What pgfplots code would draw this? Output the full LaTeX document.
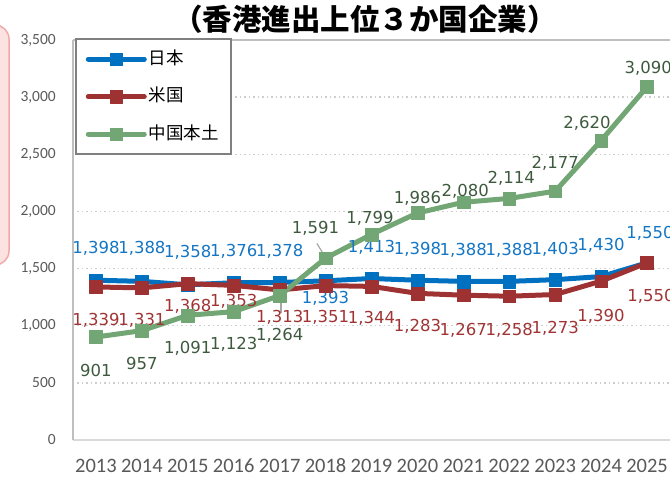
\documentclass[border=0pt]{standalone}
\usepackage{pgfplots}
\pgfplotsset{compat=1.18}
\usepackage{pgfplotstable}
\usepackage{fontspec}
\setmainfont{Carlito}
\newfontfamily\dejavu{DejaVu Sans}
\newfontfamily\cjk{Noto Sans CJK JP}
\definecolor{jpblue}{RGB}{0,112,192}
\definecolor{usred}{RGB}{158,50,50}
\definecolor{cngreen}{RGB}{114,166,117}
\definecolor{jplab}{RGB}{20,118,196}
\definecolor{uslab}{RGB}{160,52,52}
\definecolor{cnlab}{RGB}{62,90,62}
\definecolor{ticktext}{RGB}{89,89,89}
\definecolor{axgray}{RGB}{191,191,191}
\definecolor{lightaxis}{RGB}{217,217,217}
\definecolor{gridgray}{RGB}{205,205,205}
\definecolor{leggray}{RGB}{128,128,128}
\definecolor{pinkfill}{RGB}{253,226,226}
\definecolor{pinkdraw}{RGB}{240,170,170}
\pgfplotsset{/pgf/number format/.cd, 1000 sep={,}, assume math mode=true}

\pgfplotstableread{
x y dx dy
0 1398 0 32
1 1388 0 33
2 1358 0 32
3 1376 0 31
4 1378 0 31
5 1393 0 -17.5
6 1413 0 31.5
7 1398 0 31
8 1388 0 31
9 1388 0 31
10 1403 0 30
11 1430 0 31.5
12 1550 3 29.5
}\jp
\pgfplotstableread{
x y dx dy
0 1339 0 -33
1 1331 0 -32
2 1368 0 -23
3 1353 0 -16
4 1313 0 -27
5 1351 0 -31.5
6 1344 0 -32
7 1283 0 -33
8 1267 0 -35
9 1258 0 -34
10 1273 0 -33.5
11 1390 0 -35
12 1550 4 -33
}\us
\pgfplotstableread{
x y dx dy
0 901 0 -33
1 957 0 -33
2 1091 0 -33
3 1123 0 -33
4 1264 0 -39.5
5 1591 -10 30
6 1799 -1.5 16
7 1986 0 15
8 2080 2 10.6
9 2114 2 20
10 2177 0 28
11 2620 -14 17
12 3090 1.3 18.6
}\cn

\begin{document}
\begin{tikzpicture}
\useasboundingbox (0,0) rectangle (670pt,479pt);
\clip (0,0) rectangle (670pt,479pt);
\draw[rounded corners=14pt, fill=pinkfill, draw=pinkdraw, line width=1.5pt] (-30pt,214pt) rectangle (9pt,454pt);
\node[font=\cjk\bfseries\fontsize{29.5pt}{29.5pt}\selectfont, black] at (365pt,460pt) {（香港進出上位３か国企業）};
\begin{axis}[
  at={(73pt,39pt)}, anchor=south west, scale only axis,
  width=597pt, height=400pt,
  xmin=-0.5, xmax=12.5, ymin=0, ymax=3500,
  xtick={0,...,12},
  xticklabels={2013,2014,2015,2016,2017,2018,2019,2020,2021,2022,2023,2024,2025},
  ytick={0,500,...,3500},
  scaled y ticks=false,
  major tick length=0pt,
  axis lines=left, axis line style={-},
  x axis line style={draw=lightaxis, line width=1.5pt},
  y axis line style={draw=axgray, line width=1.5pt},
  ymajorgrids, grid style={gridgray, line width=1.5pt, dash pattern=on 1.5pt off 3pt},
  xticklabel style={font=\fontsize{20.5pt}{20.5pt}\selectfont, text=ticktext, anchor=center, yshift=-26pt, inner sep=0pt},
  yticklabel style={font=\fontsize{15.5pt}{15.5pt}\selectfont, text=ticktext, anchor=east, xshift=-17pt, inner sep=0pt},
  legend style={at={(axis description cs:0.0034,1.004)}, anchor=north west, draw=leggray, line width=1.5pt, fill=white,
    inner xsep=10pt, inner ysep=10pt, row sep=17.5pt,
    font=\cjk\fontsize{17.5pt}{17.5pt}\selectfont,
    nodes={inner sep=2pt, text height=13pt, text depth=3pt}},
  legend cell align=left,
  legend image code/.code={\draw[#1, line cap=round, mark repeat=2, mark phase=2] plot coordinates {(0pt,0pt) (28pt,0pt) (56pt,0pt)};},
  clip=false,
]
\draw[axgray, line width=1.5pt] (rel axis cs:0,1) -- (rel axis cs:1,1);
\draw[gray!70, line width=1.2pt] (axis cs:4.81,1720) -- (axis cs:4.98,1610);
\draw[gray!70, line width=1.2pt] (axis cs:4.03,1251) -- (axis cs:4.03,1111);
\addplot[jpblue, line width=5pt, line join=round, mark=square*, mark size=6.4pt,
  mark options={solid, line width=0.4pt},
  nodes near coords, point meta=\thisrow{y},
  visualization depends on={\thisrow{dx}\as\dx},
  visualization depends on={\thisrow{dy}\as\dy},
  every node near coord/.append style={font=\dejavu\fontsize{16.5pt}{16.5pt}\selectfont, text=jplab, anchor=center, xshift=\dx pt, yshift=\dy pt, inner sep=0pt}]
  table[x=x,y=y]{\jp};
\addlegendentry{日本}
\addplot[usred, line width=5pt, line join=round, mark=square*, mark size=6.4pt,
  mark options={solid, line width=0.4pt},
  nodes near coords, point meta=\thisrow{y},
  visualization depends on={\thisrow{dx}\as\dx},
  visualization depends on={\thisrow{dy}\as\dy},
  every node near coord/.append style={font=\dejavu\fontsize{16.5pt}{16.5pt}\selectfont, text=uslab, anchor=center, xshift=\dx pt, yshift=\dy pt, inner sep=0pt}]
  table[x=x,y=y]{\us};
\addlegendentry{米国}
\addplot[cngreen, line width=5pt, line join=round, mark=square*, mark size=6.4pt,
  mark options={solid, line width=0.4pt},
  nodes near coords, point meta=\thisrow{y},
  visualization depends on={\thisrow{dx}\as\dx},
  visualization depends on={\thisrow{dy}\as\dy},
  every node near coord/.append style={font=\dejavu\fontsize{16.5pt}{16.5pt}\selectfont, text=cnlab, anchor=center, xshift=\dx pt, yshift=\dy pt, inner sep=0pt}]
  table[x=x,y=y]{\cn};
\addlegendentry{中国本土}
\end{axis}
\end{tikzpicture}
\end{document}
